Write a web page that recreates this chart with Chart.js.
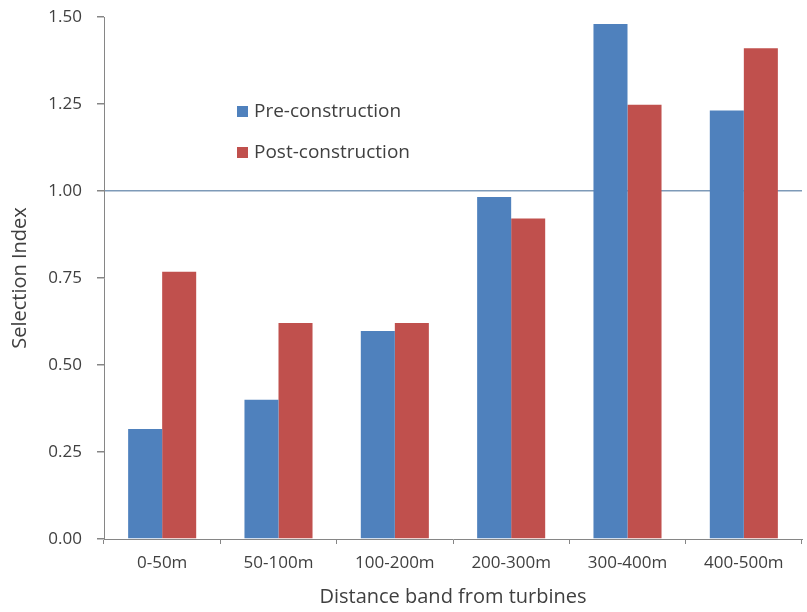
<!DOCTYPE html>
<html>
<head>
<meta charset="utf-8">
<script src="https://cdn.jsdelivr.net/npm/chart.js@4.4.1/dist/chart.umd.min.js"></script>
<style>
  html, body { margin: 0; padding: 0; background: #ffffff; }
  #wrap { width: 807px; height: 612px; position: relative; }
</style>
</head>
<body>
<div id="wrap"><canvas id="chart" width="807" height="612"></canvas></div>
<script>
// Distance bands and selection index per period
const categories = ['0-50m', '50-100m', '100-200m', '200-300m', '300-400m', '400-500m'];
const preConstruction = [0.316, 0.40, 0.598, 0.983, 1.48, 1.231];
const postConstruction = [0.768, 0.621, 0.621, 0.921, 1.248, 1.41];
const yTicks = [0, 0.25, 0.5, 0.75, 1.0, 1.25, 1.5];
const referenceLevel = 1.0;

const FONT = '"Open Sans", "Liberation Sans", sans-serif';
const TEXT = '#404040';
const AXIS = '#868686';
const REF_LINE = '#7e9ab8';

// Legend drawn inside the plot area, upper left of centre
const insideLegend = {
  id: 'insideLegend',
  afterDraw(chart) {
    const ctx = chart.ctx;
    const x = 237, y0 = 111, gap = 41;
    ctx.save();
    ctx.font = '19px ' + FONT;
    ctx.textBaseline = 'middle';
    chart.data.datasets.forEach((ds, i) => {
      const y = y0 + i * gap;
      ctx.fillStyle = ds.backgroundColor;
      ctx.fillRect(x, y - 5, 11, 11);
      ctx.fillStyle = TEXT;
      ctx.fillText(ds.label, x + 17, y + 1);
    });
    ctx.restore();
  }
};

new Chart(document.getElementById('chart'), {
  type: 'bar',
  data: {
    labels: categories,
    datasets: [
      { label: 'Pre-construction', data: preConstruction, backgroundColor: '#4f81bd' },
      { label: 'Post-construction', data: postConstruction, backgroundColor: '#c0504d' }
    ]
  },
  options: {
    responsive: false,
    animation: false,
    layout: { padding: { top: 17, right: 5, left: 0, bottom: 0 } },
    datasets: { bar: { barPercentage: 1.0, categoryPercentage: 0.585 } },
    plugins: {
      legend: { display: false },
      tooltip: { enabled: false }
    },
    scales: {
      x: {
        afterFit(scale) { scale.height = 73; },
        grid: { display: true, drawOnChartArea: false, offset: true, tickLength: 5, tickColor: AXIS },
        border: { color: AXIS, width: 1 },
        ticks: { color: TEXT, font: { family: FONT, size: 17 }, padding: 9 },
        title: { display: true, text: 'Distance band from turbines', color: TEXT,
                 font: { family: FONT, size: 20 }, padding: { top: 4, bottom: 3 } }
      },
      y: {
        min: 0, max: 1.5,
        afterBuildTicks(scale) { scale.ticks = yTicks.map(v => ({ value: v })); },
        afterFit(scale) { scale.width = 104; scale.paddingTop = 0; scale.paddingBottom = 0; },
        grid: {
          color: c => (c.tick && c.tick.value === referenceLevel ? REF_LINE : 'rgba(0,0,0,0)'),
          lineWidth: 1.5,
          tickColor: AXIS,
          tickLength: 7
        },
        border: { color: AXIS, width: 1 },
        ticks: {
          color: TEXT, font: { family: FONT, size: 17 }, padding: 15,
          callback: v => Number(v).toFixed(2)
        },
        title: { display: true, text: 'Selection Index', color: TEXT,
                 font: { family: FONT, size: 20 }, padding: { top: 8, bottom: 0 } }
      }
    }
  },
  plugins: [insideLegend]
});
</script>
</body>
</html>
